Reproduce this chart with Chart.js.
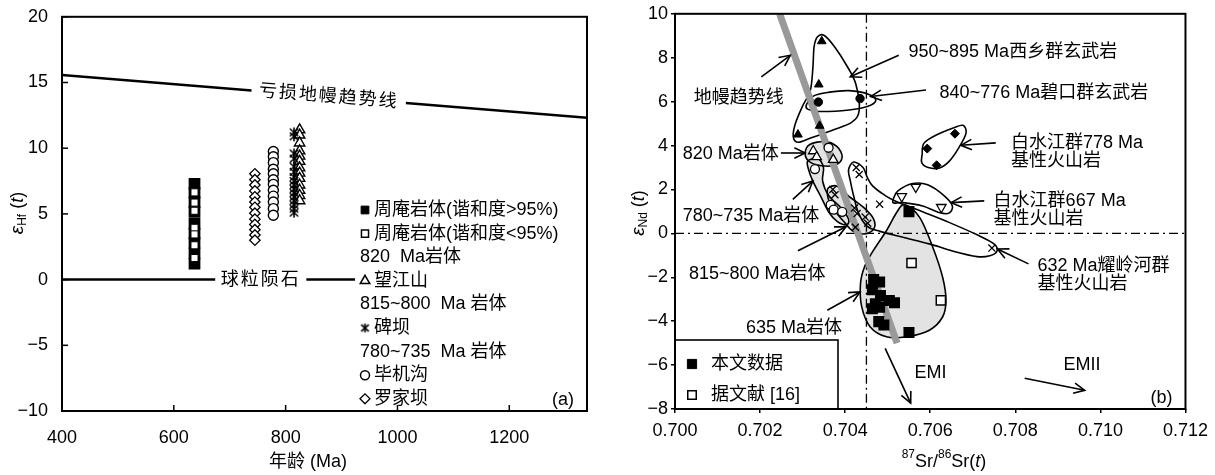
<!DOCTYPE html>
<html>
<head>
<meta charset="utf-8">
<script src="https://cdn.jsdelivr.net/npm/chart.js@4.4.1/dist/chart.umd.min.js"></script>
<style>
  body { margin: 0; background: #fff; }
  #wrapA { position: absolute; left: 0; top: 0; width: 600px; height: 475px; }
  #wrapB { position: absolute; left: 600px; top: 0; width: 615px; height: 475px; }
</style>
</head>
<body>
<div id="wrapA"><canvas id="chartA" width="600" height="475"></canvas></div>
<div id="wrapB"><canvas id="chartB" width="615" height="475"></canvas></div>
<script>
// ---------- (a) zircon eHf(t) vs age ----------
const ageZhouan = 637, ageLuojiaba = 745, ageBijigou = 778, ageBeiba = 815, ageWangjiang = 825;
const hfZhouanHigh = [7.28, 6.6, 5.9, 5.16, 4.24, 3.5, 2.8, 2.0, 1.22];
const hfZhouanLow = [6.64, 5.86, 5.24, 3.94, 3.44, 2.61, 1.64];
const hfLuojiaba = [8.05, 7.6, 7.2, 6.75, 6.3, 5.9, 5.5, 5.05, 4.6, 4.2, 3.8, 3.4, 3.0];
const hfBijigou = [9.75, 9.35, 8.9, 8.4, 8.05, 7.6, 7.25, 6.8, 6.35, 5.9, 5.4, 4.9];
const hfBeiba = [11.2, 10.9, 9.6, 9.2, 8.6, 8.2, 7.8, 7.5, 7.2, 6.9, 6.6, 6.3, 6.0, 5.7, 5.4, 5.1];
const hfWangjiang = [11.4, 11.0, 10.4, 9.8, 9.4, 9.0, 8.5, 8.1, 7.7, 7.2, 6.8, 6.4, 6.0];
const ageTicks = [400, 600, 800, 1000, 1200];
const hfTicks = [-10, -5, 0, 5, 10, 15, 20];
const dmLine = [[400, 15.57], [1339, 12.32]];   // depleted mantle trend
const churLine = [[400, 0], [924, 0]];          // chondrite

// ---------- (b) eNd(t) vs 87Sr/86Sr(t) ----------
const xixiangSr = [0.70345, 0.70338, 0.70340, 0.70289];
const xixiangNd = [8.75, 6.78, 4.90, 4.50];
const biyikouSr = [0.70337, 0.70435];
const biyikouNd = [5.98, 6.14];
const bsj778Sr = [0.70593, 0.70658, 0.70615];
const bsj778Nd = [3.86, 4.54, 3.10];
const bsj667Sr = [0.70533, 0.70566, 0.70626];
const bsj667Nd = [1.68, 2.11, 1.19];
const pl820Sr = [0.70325, 0.70333, 0.70372];
const pl820Nd = [3.75, 3.48, 3.36];
const pl780Sr = [0.70361, 0.70329, 0.70366, 0.70373, 0.70393];
const pl780Nd = [3.90, 2.93, 1.30, 1.08, 0.98];
const pl815Sr = [0.70371, 0.70376, 0.70422, 0.70428, 0.70447, 0.70453, 0.70424];
const pl815Nd = [2.00, 1.76, 1.15, 0.90, 0.74, 0.46, 0.28];
const ylhSr = [0.70426, 0.70433, 0.70481, 0.70745];
const ylhNd = [3.00, 2.68, 1.33, -0.67];
const thisSr = [0.70550, 0.70467, 0.70481, 0.70464, 0.70483, 0.70471, 0.70504, 0.70516, 0.70464, 0.70481, 0.70479, 0.70491, 0.70550];
const thisNd = [0.99, -2.10, -2.22, -2.57, -2.83, -3.21, -3.06, -3.16, -3.43, -3.36, -4.02, -4.17, -4.52];
const ref16Sr = [0.70556, 0.70625];
const ref16Nd = [-1.35, -3.05];
const srTicks = [0.700, 0.702, 0.704, 0.706, 0.708, 0.710, 0.712];
const ndTicks = [-8, -6, -4, -2, 0, 2, 4, 6, 8, 10];
const mantleArray = [[0.70246, 10], [0.70522, -5]];
const srBulkEarth = 0.7045;

// envelopes (outline vertices)
const envXixiang = [[0.70433, 5.6], [0.70415, 5.05], [0.70370, 4.7], [0.70320, 4.35], [0.70290, 4.15], [0.70278, 4.4], [0.70283, 5.0], [0.70300, 5.8], [0.70318, 6.5], [0.70324, 7.5], [0.70327, 8.5], [0.70335, 8.95], [0.70350, 9.02], [0.70375, 8.5], [0.70405, 7.6], [0.70425, 6.8]];
const envBiyikou = [[0.70309, 5.86], [0.70325, 6.25], [0.70360, 6.42], [0.70409, 6.50], [0.70456, 6.33], [0.70472, 6.05], [0.70452, 5.78], [0.70409, 5.62], [0.70340, 5.55], [0.70312, 5.66]];
const envBsj778 = [[0.70581, 3.59], [0.70585, 4.10], [0.70613, 4.47], [0.70654, 4.80], [0.70677, 4.92], [0.70684, 4.55], [0.70667, 3.89], [0.70645, 3.29], [0.70622, 2.98], [0.70595, 3.00], [0.70580, 3.22]];
const envBsj667 = [[0.70513, 1.56], [0.70524, 1.93], [0.70559, 2.27], [0.70594, 2.21], [0.70633, 1.71], [0.70652, 1.25], [0.70644, 0.92], [0.70621, 0.95], [0.70582, 1.25], [0.70536, 1.40], [0.70514, 1.38]];
const env820 = [[0.70306, 3.66], [0.70317, 4.05], [0.70353, 4.18], [0.70381, 3.95], [0.70393, 3.48], [0.70378, 3.12], [0.70344, 3.08], [0.70315, 3.28]];
const env780 = [[0.70312, 3.29], [0.70335, 3.41], [0.70349, 3.0], [0.70347, 2.38], [0.70362, 1.70], [0.70390, 1.17], [0.70408, 0.65], [0.70403, 0.39], [0.70381, 0.55], [0.70362, 0.95], [0.70344, 1.63], [0.70324, 2.38], [0.70314, 2.91]];
const env815 = [[0.70361, 2.08], [0.70381, 2.15], [0.70408, 1.70], [0.70444, 1.17], [0.70467, 0.65], [0.70467, 0.19], [0.70444, -0.03], [0.70417, 0.12], [0.70399, 0.49], [0.70376, 1.02], [0.70362, 1.47], [0.70358, 1.85]];
const env635 = [[0.70540, 1.30], [0.70575, 0.73], [0.70606, -0.63], [0.70629, -1.99], [0.70637, -3.05], [0.70629, -3.81], [0.70598, -4.41], [0.70544, -4.71], [0.70497, -4.71], [0.70459, -4.26], [0.70439, -3.35], [0.70436, -2.3], [0.70446, -1.5], [0.70466, -0.79], [0.70497, 0.12], [0.70521, 0.95]];
const envYaolinghe = [[0.70420, 3.25], [0.70442, 3.0], [0.70452, 2.55], [0.70465, 2.15], [0.70492, 1.75], [0.70520, 1.45], [0.70582, 0.98], [0.70644, 0.50], [0.70714, -0.10], [0.70750, -0.48], [0.70757, -0.80], [0.70740, -1.02], [0.70710, -1.06], [0.70652, -0.80], [0.70598, -0.48], [0.70536, -0.18], [0.70482, 0.09], [0.70452, 0.32], [0.70432, 0.9], [0.70420, 1.7], [0.70412, 2.4], [0.70408, 2.9]];

const FONT = '"Liberation Sans", Arial, "Noto Sans CJK SC", sans-serif';
Chart.defaults.font.family = FONT;
Chart.defaults.font.size = 18;
Chart.defaults.color = '#000';

function minus(v) { return v < 0 ? '\u2212' + Math.abs(v) : String(v); }
function toPx(chart, x, y) {
  return { x: chart.scales.x.getPixelForValue(x), y: chart.scales.y.getPixelForValue(y) };
}
function pts(xs, ys) { return xs.map((x, i) => ({ x: x, y: ys[i] })); }
function col(x, ys) { return ys.map(y => ({ x: x, y: y })); }

function makeAsterisk(size, lw) {
  const c = document.createElement('canvas');
  c.width = c.height = size;
  const g = c.getContext('2d');
  const m = size / 2, r = size / 2 - 1;
  g.strokeStyle = '#000';
  g.lineWidth = lw;
  g.beginPath();
  g.moveTo(m - r * 0.85, m - r * 0.75); g.lineTo(m + r * 0.85, m + r * 0.75);
  g.moveTo(m + r * 0.85, m - r * 0.75); g.lineTo(m - r * 0.85, m + r * 0.75);
  g.moveTo(m, m - r); g.lineTo(m, m + r);
  g.stroke();
  return c;
}
const asterisk = makeAsterisk(12, 1.6);
const asteriskSmall = makeAsterisk(11, 1.6);

function richText(ctx, parts, x, y, angle) {
  ctx.save();
  ctx.translate(x, y);
  ctx.rotate(angle || 0);
  let w = 0;
  parts.forEach(p => { ctx.font = p.font; p.w = ctx.measureText(p.t).width; w += p.w; });
  let cx = -w / 2;
  ctx.textBaseline = 'middle';
  ctx.textAlign = 'left';
  ctx.fillStyle = '#000';
  parts.forEach(p => { ctx.font = p.font; ctx.fillText(p.t, cx, p.dy || 0); cx += p.w; });
  ctx.restore();
}

function seg(ctx, p, q) {
  ctx.beginPath(); ctx.moveTo(p.x, p.y); ctx.lineTo(q.x, q.y); ctx.stroke();
}

function closedSpline(ctx, p) {
  const n = p.length;
  ctx.beginPath();
  ctx.moveTo(p[0].x, p[0].y);
  for (let i = 0; i < n; i++) {
    const p0 = p[(i - 1 + n) % n], p1 = p[i], p2 = p[(i + 1) % n], p3 = p[(i + 2) % n];
    ctx.bezierCurveTo(p1.x + (p2.x - p0.x) / 6, p1.y + (p2.y - p0.y) / 6,
                      p2.x - (p3.x - p1.x) / 6, p2.y - (p3.y - p1.y) / 6, p2.x, p2.y);
  }
  ctx.closePath();
}

function arrow(ctx, p, q) {
  const ang = Math.atan2(q.y - p.y, q.x - p.x), h = 12, s = 0.45;
  seg(ctx, p, q);
  ctx.beginPath();
  ctx.moveTo(q.x - h * Math.cos(ang - s), q.y - h * Math.sin(ang - s));
  ctx.lineTo(q.x, q.y);
  ctx.lineTo(q.x - h * Math.cos(ang + s), q.y - h * Math.sin(ang + s));
  ctx.stroke();
}

function marker(ctx, opt, x, y) {
  ctx.save();
  ctx.fillStyle = opt.fill;
  ctx.strokeStyle = '#000';
  ctx.lineWidth = opt.bw;
  Chart.helpers.drawPoint(ctx, { pointStyle: opt.style, radius: opt.r, rotation: opt.rot || 0, borderWidth: opt.bw }, x, y);
  ctx.restore();
}

// ---------- panel (a) ----------
const dmGap = [739, 1015];
const churGap = [674, 837];

const legendA = [
  { m: { style: 'rect', r: 5.5, fill: '#000', bw: 1 }, text: '周庵岩体(谐和度>95%)' },
  { m: { style: 'rect', r: 5, fill: '#fff', bw: 1.5 }, text: '周庵岩体(谐和度<95%)' },
  { text: '820  Ma岩体' },
  { m: { style: 'triangle', r: 5.5, fill: '#fff', bw: 1.5 }, text: '望江山' },
  { text: '815~800  Ma 岩体' },
  { m: { style: asteriskSmall, r: 5, fill: '#000', bw: 1 }, text: '碑坝' },
  { text: '780~735  Ma 岩体' },
  { m: { style: 'circle', r: 4.5, fill: '#fff', bw: 1.5 }, text: '毕机沟' },
  { m: { style: 'rectRot', r: 5, fill: '#fff', bw: 1.3 }, text: '罗家坝' }
];

const panelA = {
  id: 'panelA',
  beforeDatasetsDraw(chart) {
    const ctx = chart.ctx, a = chart.chartArea;
    ctx.save();
    ctx.beginPath(); ctx.rect(a.left, a.top, a.right - a.left, a.bottom - a.top); ctx.clip();
    ctx.strokeStyle = '#000';
    ctx.lineWidth = 2.5;
    const dmAt = t => dmLine[0][1] + (dmLine[1][1] - dmLine[0][1]) * (t - dmLine[0][0]) / (dmLine[1][0] - dmLine[0][0]);
    [[dmLine[0][0], dmGap[0]], [dmGap[1], dmLine[1][0]]].forEach(([t0, t1]) => {
      seg(ctx, toPx(chart, t0, dmAt(t0)), toPx(chart, t1, dmAt(t1)));
    });
    [[churLine[0][0], churGap[0]], [churGap[1], churLine[1][0]]].forEach(([t0, t1]) => {
      seg(ctx, toPx(chart, t0, 0), toPx(chart, t1, 0));
    });
    ctx.restore();

    // line labels
    const p1 = toPx(chart, dmLine[0][0], dmLine[0][1]), p2 = toPx(chart, dmLine[1][0], dmLine[1][1]);
    const ang = Math.atan2(p2.y - p1.y, p2.x - p1.x);
    const tm = (dmGap[0] + dmGap[1]) / 2;
    const c = toPx(chart, tm, dmAt(tm));
    ctx.save();
    ctx.letterSpacing = '2px';
    richText(ctx, [{ t: '亏损地幔趋势线', font: '18px ' + FONT }], c.x, c.y, ang);
    const cc = toPx(chart, (churGap[0] + churGap[1]) / 2, 0);
    richText(ctx, [{ t: '球粒陨石', font: '18px ' + FONT }], cc.x, cc.y, 0);
    ctx.restore();
  },
  afterDraw(chart) {
    const ctx = chart.ctx, a = chart.chartArea;
    ctx.save();
    ctx.strokeStyle = '#000';
    ctx.lineWidth = 2;
    ctx.strokeRect(a.left, a.top, a.right - a.left, a.bottom - a.top);
    ctx.lineWidth = 1.5;
    chart.scales.x.ticks.forEach(t => {
      const x = chart.scales.x.getPixelForValue(t.value);
      seg(ctx, { x: x, y: a.bottom }, { x: x, y: a.bottom - 6 });
    });
    chart.scales.y.ticks.forEach(t => {
      const y = chart.scales.y.getPixelForValue(t.value);
      seg(ctx, { x: a.left, y: y }, { x: a.left + 6, y: y });
    });

    // legend
    ctx.fillStyle = '#000';
    ctx.textBaseline = 'middle';
    ctx.textAlign = 'left';
    ctx.font = '18px ' + FONT;
    legendA.forEach((e, i) => {
      const y = 210 + i * 23.6;
      if (e.m) {
        marker(ctx, e.m, 365, y);
        ctx.fillStyle = '#000';
        ctx.fillText(e.text, 374, y);
      } else {
        ctx.fillText(e.text, 360, y);
      }
    });
    ctx.fillText('(a)', 552, 400);

    richText(ctx, [
      { t: 'ε', font: 'italic 19px ' + FONT },
      { t: 'Hf', font: '12px ' + FONT, dy: 5 },
      { t: ' (', font: '18px ' + FONT },
      { t: 't', font: 'italic 18px ' + FONT },
      { t: ')', font: '18px ' + FONT }
    ], 18, 213, -Math.PI / 2);
    richText(ctx, [{ t: '年龄 (Ma)', font: '18px ' + FONT }], 308, 462, 0);
    ctx.restore();
  }
};

new Chart(document.getElementById('chartA'), {
  type: 'scatter',
  data: {
    datasets: [
      { data: col(ageZhouan, hfZhouanHigh), order: 2, pointStyle: 'rect', pointRadius: 8.3, backgroundColor: '#000', borderColor: '#000', borderWidth: 0 },
      { data: col(ageZhouan, hfZhouanLow), order: 1, pointStyle: 'rect', pointRadius: 5, backgroundColor: '#fff', borderColor: '#000', borderWidth: 1 },
      { data: col(ageLuojiaba, hfLuojiaba), order: 3, pointStyle: 'rectRot', pointRadius: 5.2, backgroundColor: '#fff', borderColor: '#000', borderWidth: 1.3 },
      { data: col(ageBijigou, hfBijigou), order: 4, pointStyle: 'circle', pointRadius: 5, backgroundColor: '#fff', borderColor: '#000', borderWidth: 1.4 },
      { data: col(ageBeiba, hfBeiba), order: 5, pointStyle: asterisk, pointRadius: 6 },
      { data: col(ageWangjiang, hfWangjiang), order: 6, pointStyle: 'triangle', pointRadius: 6, backgroundColor: '#fff', borderColor: '#000', borderWidth: 1.4 }
    ]
  },
  options: {
    responsive: false,
    animation: false,
    events: [],
    layout: { padding: { left: 0, right: 13, top: 13, bottom: 0 } },
    plugins: { legend: { display: false }, tooltip: { enabled: false } },
    scales: {
      x: {
        type: 'linear', min: 400, max: 1339,
        afterFit: s => { s.height = 64; },
        afterBuildTicks: s => { s.ticks = ageTicks.map(v => ({ value: v })); },
        grid: { display: false }, border: { display: false },
        ticks: { padding: 8, color: '#000', font: { size: 18 }, callback: v => String(v) }
      },
      y: {
        type: 'linear', min: -10, max: 20,
        afterFit: s => { s.width = 62; },
        afterBuildTicks: s => { s.ticks = hfTicks.map(v => ({ value: v })); },
        grid: { display: false }, border: { display: false },
        ticks: { padding: 6, color: '#000', font: { size: 18 }, callback: v => minus(v) }
      }
    }
  },
  plugins: [panelA]
});

// ---------- panel (b) ----------
const grayEnvelopes = [env820, env780, env815, env635];
const openEnvelopes = [envXixiang, envBiyikou, envBsj778, envBsj667, envYaolinghe];

const arrowsB = [
  [[0.70526, 8.11], [0.70412, 7.13]],
  [[0.70590, 6.53], [0.70460, 6.23]],
  [[0.70203, 7.13], [0.70271, 8.11]],
  [[0.70249, 3.66], [0.70306, 3.66]],
  [[0.70277, 1.55], [0.70324, 2.38]],
  [[0.70289, -0.79], [0.70402, 0.30]],
  [[0.70358, -3.5], [0.70435, -2.67]],
  [[0.70754, 4.12], [0.70672, 4.01]],
  [[0.70727, 1.48], [0.70649, 1.40]],
  [[0.70831, -1.39], [0.70758, -0.71]],
  [[0.70494, -5.24], [0.70554, -7.73]],
  [[0.70822, -6.60], [0.70963, -7.15]]
];
const labelsB = [
  ['950~895 Ma西乡群玄武岩', 0.70549, 8.27],
  ['840~776 Ma碧口群玄武岩', 0.70622, 6.38],
  ['地幔趋势线', 0.70044, 6.15],
  ['820 Ma岩体', 0.70018, 3.60],
  ['780~735 Ma岩体', 0.70018, 0.80],
  ['815~800 Ma岩体', 0.70033, -1.85],
  ['635 Ma岩体', 0.70167, -4.33],
  ['白水江群778 Ma', 0.70790, 4.12],
  ['基性火山岩', 0.70790, 3.29],
  ['白水江群667 Ma', 0.70749, 1.48],
  ['基性火山岩', 0.70749, 0.65],
  ['632 Ma耀岭河群', 0.70852, -1.50],
  ['基性火山岩', 0.70852, -2.30],
  ['EMI', 0.70563, -6.37],
  ['EMII', 0.70913, -5.99],
  ['(b)', 0.71118, -7.5]
];

const panelB = {
  id: 'panelB',
  beforeDatasetsDraw(chart) {
    const ctx = chart.ctx, a = chart.chartArea;
    const P = v => toPx(chart, v[0], v[1]);
    ctx.save();
    ctx.beginPath(); ctx.rect(a.left, a.top, a.right - a.left, a.bottom - a.top); ctx.clip();
    ctx.fillStyle = '#e3e3e3';
    grayEnvelopes.forEach(e => { closedSpline(ctx, e.map(P)); ctx.fill(); });

    ctx.strokeStyle = '#000';
    ctx.lineWidth = 1.3;
    ctx.setLineDash([9, 4, 2, 4]);
    const y0 = chart.scales.y.getPixelForValue(0);
    const xb = chart.scales.x.getPixelForValue(srBulkEarth);
    seg(ctx, { x: a.left, y: y0 }, { x: a.right, y: y0 });
    seg(ctx, { x: xb, y: a.top }, { x: xb, y: a.bottom });
    ctx.setLineDash([]);

    ctx.lineWidth = 1.6;
    grayEnvelopes.concat(openEnvelopes).forEach(e => { closedSpline(ctx, e.map(P)); ctx.stroke(); });

    ctx.strokeStyle = '#999';
    ctx.lineWidth = 7;
    seg(ctx, P(mantleArray[0]), P(mantleArray[1]));
    ctx.restore();
  },
  afterDraw(chart) {
    const ctx = chart.ctx, a = chart.chartArea;
    const P = v => toPx(chart, v[0], v[1]);
    ctx.save();
    ctx.strokeStyle = '#000';
    ctx.lineWidth = 1.6;
    arrowsB.forEach(ar => arrow(ctx, P(ar[0]), P(ar[1])));

    ctx.fillStyle = '#000';
    ctx.font = '18px ' + FONT;
    ctx.textBaseline = 'middle';
    ctx.textAlign = 'left';
    labelsB.forEach(l => { const p = toPx(chart, l[1], l[2]); ctx.fillText(l[0], p.x, p.y); });

    // legend box (lower left)
    const boxR = a.left + 163, boxT = 340;
    ctx.fillStyle = '#fff';
    ctx.fillRect(a.left, boxT, boxR - a.left, a.bottom - boxT);
    ctx.lineWidth = 1.6;
    ctx.strokeRect(a.left, boxT, boxR - a.left, a.bottom - boxT);
    marker(ctx, { style: 'rect', r: 6.5, fill: '#000', bw: 1 }, a.left + 17, 364);
    marker(ctx, { style: 'rect', r: 6, fill: '#fff', bw: 1.5 }, a.left + 17, 395);
    ctx.fillStyle = '#000';
    ctx.fillText('本文数据', a.left + 36, 364);
    ctx.fillText('据文献 [16]', a.left + 36, 395);

    ctx.lineWidth = 2;
    ctx.strokeRect(a.left, a.top, a.right - a.left, a.bottom - a.top);

    richText(ctx, [
      { t: 'ε', font: 'italic 19px ' + FONT },
      { t: 'Nd', font: '12px ' + FONT, dy: 5 },
      { t: ' (', font: '18px ' + FONT },
      { t: 't', font: 'italic 18px ' + FONT },
      { t: ')', font: '18px ' + FONT }
    ], 39, 213, -Math.PI / 2);
    richText(ctx, [
      { t: '87', font: '12px ' + FONT, dy: -7 },
      { t: 'Sr/', font: '18px ' + FONT },
      { t: '86', font: '12px ' + FONT, dy: -7 },
      { t: 'Sr(', font: '18px ' + FONT },
      { t: 't', font: 'italic 18px ' + FONT },
      { t: ')', font: '18px ' + FONT }
    ], 344, 462, 0);
    ctx.restore();
  }
};

new Chart(document.getElementById('chartB'), {
  type: 'scatter',
  data: {
    datasets: [
      { data: pts(xixiangSr, xixiangNd), pointStyle: 'triangle', pointRadius: 5, backgroundColor: '#000', borderColor: '#000', borderWidth: 1 },
      { data: pts(biyikouSr, biyikouNd), pointStyle: 'circle', pointRadius: 4.2, backgroundColor: '#000', borderColor: '#000', borderWidth: 1 },
      { data: pts(bsj778Sr, bsj778Nd), pointStyle: 'rectRot', pointRadius: 4.5, backgroundColor: '#000', borderColor: '#000', borderWidth: 1 },
      { data: pts(bsj667Sr, bsj667Nd), pointStyle: 'triangle', rotation: 180, pointRadius: 5.5, backgroundColor: '#fff', borderColor: '#000', borderWidth: 1.3 },
      { data: pts(pl820Sr, pl820Nd), pointStyle: 'triangle', pointRadius: 5.5, backgroundColor: '#fff', borderColor: '#000', borderWidth: 1.3 },
      { data: pts(pl780Sr, pl780Nd), pointStyle: 'circle', pointRadius: 4.5, backgroundColor: '#fff', borderColor: '#000', borderWidth: 1.3 },
      { data: pts(pl815Sr, pl815Nd), pointStyle: 'crossRot', pointRadius: 5, borderColor: '#000', borderWidth: 1.3 },
      { data: pts(ylhSr, ylhNd), pointStyle: 'crossRot', pointRadius: 5, borderColor: '#000', borderWidth: 1.3 },
      { data: pts(thisSr, thisNd), pointStyle: 'rect', pointRadius: 7.8, backgroundColor: '#000', borderColor: '#000', borderWidth: 0 },
      { data: pts(ref16Sr, ref16Nd), pointStyle: 'rect', pointRadius: 6.5, backgroundColor: '#fff', borderColor: '#000', borderWidth: 1.5 }
    ]
  },
  options: {
    responsive: false,
    animation: false,
    events: [],
    layout: { padding: { left: 0, right: 25, top: 12, bottom: 0 } },
    plugins: { legend: { display: false }, tooltip: { enabled: false } },
    scales: {
      x: {
        type: 'linear', min: 0.700, max: 0.712,
        afterFit: s => { s.height = 66; },
        afterBuildTicks: s => { s.ticks = srTicks.map(v => ({ value: v })); },
        grid: { display: true, drawOnChartArea: false, drawTicks: true, tickLength: 4, color: '#000', lineWidth: 1.5 },
        border: { display: false },
        ticks: { padding: 7, color: '#000', font: { size: 18 }, callback: v => v.toFixed(3) }
      },
      y: {
        type: 'linear', min: -8, max: 10,
        afterFit: s => { s.width = 75; },
        afterBuildTicks: s => { s.ticks = ndTicks.map(v => ({ value: v })); },
        grid: { display: true, drawOnChartArea: false, drawTicks: true, tickLength: 4, color: '#000', lineWidth: 1.5 },
        border: { display: false },
        ticks: { padding: 3, color: '#000', font: { size: 18 }, callback: v => minus(v) }
      }
    }
  },
  plugins: [panelB]
});
</script>
</body>
</html>
